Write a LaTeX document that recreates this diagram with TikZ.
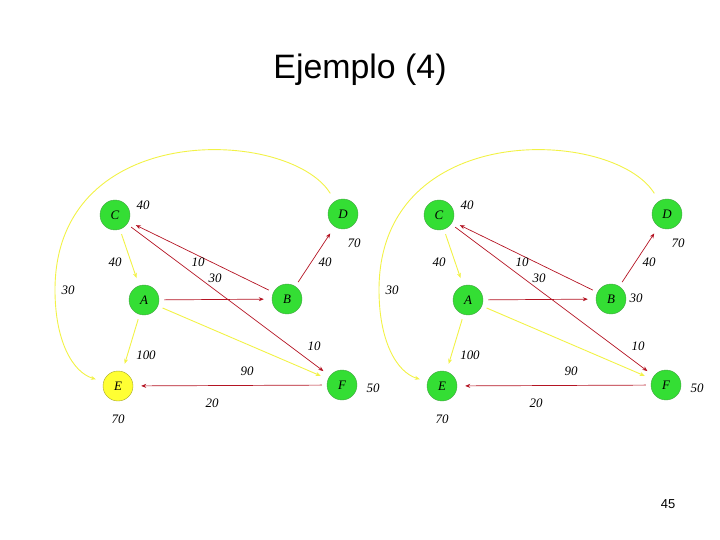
\documentclass[tikz,border=0pt]{standalone}
\usepackage{fontspec}
\setmainfont{Liberation Serif}\setsansfont{Liberation Sans}
\usetikzlibrary{arrows.meta}
\definecolor{vgreen}{RGB}{52,222,52}\definecolor{vgreenb}{RGB}{70,165,70}
\definecolor{eyel}{RGB}{255,255,51}\definecolor{eyelb}{RGB}{165,165,40}
\definecolor{redge}{RGB}{180,20,35}\definecolor{yedge}{RGB}{242,242,70}
\tikzset{>={Stealth[length=5bp,width=4bp]},
  vtx/.style={circle,draw=vgreenb,fill=vgreen,minimum size=30bp,inner sep=0pt,font=\fontsize{13}{15}\selectfont\itshape},
  wt/.style={font=\fontsize{13}{15}\selectfont\itshape,inner sep=0pt},
  redarr/.style={->,redge,line width=.7bp,shorten <=5bp,shorten >=8bp},
  yelarr/.style={->,yedge,line width=.9bp,shorten <=5bp,shorten >=8bp}}
\begin{document}
\begin{tikzpicture}[x=1bp,y=-1bp]
\useasboundingbox (0,0) rectangle (720,540);
\node[anchor=base,font=\sffamily\fontsize{34}{40}\selectfont] (title) at (360,79) {Ejemplo (4)};
\node[anchor=base,font=\sffamily\fontsize{13}{15}\selectfont] (pnum) at (668,508) {45};
% the two graphs, side by side
\foreach \g/\dx/\ecol/\ecolb in {l/0/eyel/eyelb,r/324/vgreen/vgreenb}{
\begin{scope}[xshift=\dx bp]
\node[vtx] (\g C) at (115,215) {C};\node[vtx] (\g D) at (343,214) {D};
\node[vtx] (\g A) at (144,300) {A};\node[vtx] (\g B) at (287,299) {B};
\node[vtx,fill=\ecol,draw=\ecolb] (\g E) at (118,386) {E};\node[vtx] (\g F) at (342,385) {F};
\draw[yelarr] (\g C)--(\g A);\draw[yelarr] (\g A)--(\g E);\draw[yelarr] (\g A)--(\g F);
\draw[redarr] (\g A)--(\g B);\draw[redarr] (\g B)--(\g C);\draw[redarr] (\g B)--(\g D);
\draw[redarr] (\g C)--(\g F);\draw[redarr] (\g F)--(\g E);
\coordinate (\g K) at (55,290);
\draw[yelarr,shorten <=9bp] (\g D) .. controls (290,128) and (55,118) .. (\g K) .. controls (55,340) and (72,372) .. (\g E);
\node[wt] (\g wC) at (143,205) {40};\node[wt] (\g wD) at (354,243) {70};
\node[wt] (\g wE) at (118,419) {70};\node[wt] (\g wF) at (373,388) {50};
\node[wt] (\g eCA) at (115,262) {40};\node[wt] (\g eBC) at (198,262) {10};
\node[wt] (\g eCF) at (215,278) {30};\node[wt] (\g eBD) at (325,262) {40};
\node[wt] (\g eDE) at (68,290) {30};\node[wt] (\g eAE) at (146,355) {100};
\node[wt] (\g eAF) at (247,371) {90};\node[wt] (\g eCFb) at (314,346) {10};
\node[wt] (\g eFE) at (212,403) {20};
\end{scope}}
\node[wt] (rwB) at (636,298) {30};
\end{tikzpicture}
\end{document}
